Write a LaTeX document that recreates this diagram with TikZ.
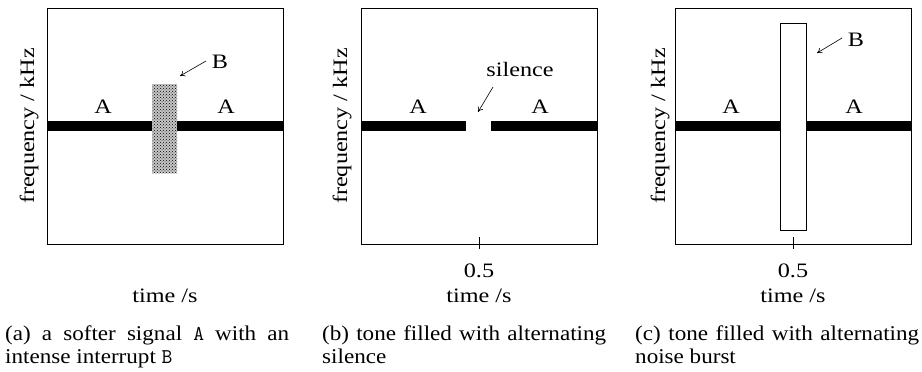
\documentclass[tikz,border=0pt]{standalone}
\usepackage{fontspec}
\setmainfont{Liberation Serif}
\newfontfamily\figfont[FakeStretch=1.18]{Liberation Serif}
\newfontfamily\capfont[FakeStretch=1.1]{Liberation Serif}
\usetikzlibrary{patterns,arrows.meta}
\tikzset{
  axisbox/.style={draw=black, line width=0.8pt},
  tonebar/.style={fill=black, draw=none},
  lbl/.style={font=\figfont\fontsize{20.5}{22}\selectfont, inner sep=0pt, anchor=base},
  ylbl/.style={font=\figfont\fontsize{20.5}{22}\selectfont, inner sep=0pt, rotate=90},
  pointer/.style={line width=0.6pt, -{To[length=5pt,width=6pt]}},
  tickmark/.style={line width=0.8pt},
  capnode/.style={font=\capfont\fontsize{21}{22.5}\selectfont, inner sep=0pt, anchor=north west,
     text width=284pt, align=justify}
}
\begin{document}
\begin{tikzpicture}[x=1pt,y=-1pt]
\useasboundingbox (0,0) rectangle (922,372);
\fill[white] (0,0) rectangle (922,372);

% ---------- panel (a)
\draw[tonebar] (47,121) rectangle (283,131);
\fill[gray!45] (152,84) rectangle (177,173);
\path[pattern=crosshatch dots, pattern color=black] (152,84) rectangle (177,173);
\draw[axisbox] (47,8) rectangle (283,244);
\node[lbl] (aA1) at (103,113) {A};
\node[lbl] (aA2) at (226,113) {A};
\node[lbl] (aB) at (220,68) {B};
\coordinate (aBs) at (206,61);
\coordinate (aBt) at (180,76);
\draw[pointer] (aBs) -- (aBt);
\node[ylbl] (ay) at (29,126) {frequency / kHz};
\node[lbl] (ax) at (165,302) {time /s};

% ---------- panel (b)
\draw[tonebar] (361,121) rectangle (466,131);
\draw[tonebar] (491,121) rectangle (597,131);
\draw[axisbox] (361,8) rectangle (597,244);
\draw[tickmark] (479,237) -- (479,249);
\node[lbl] (bA1) at (418,113) {A};
\node[lbl] (bA2) at (540,113) {A};
\node[lbl] (bs) at (520,76) {silence};
\coordinate (bSs) at (493,87);
\coordinate (bSt) at (478,112);
\draw[pointer] (bSs) -- (bSt);
\node[ylbl] (by) at (342,126) {frequency / kHz};
\node[lbl] (bt) at (479,277) {0.5};
\node[lbl] (bx) at (479,302) {time /s};

% ---------- panel (c)
\draw[tonebar] (675,121) rectangle (911,131);
\draw[line width=0.7pt, fill=white] (780,23) rectangle (806,230);
\draw[axisbox] (675,8) rectangle (911,244);
\draw[tickmark] (793,237) -- (793,249);
\node[lbl] (cA1) at (731,113) {A};
\node[lbl] (cA2) at (854,113) {A};
\node[lbl] (cB) at (856,46) {B};
\coordinate (cBs) at (842,38);
\coordinate (cBt) at (817,53);
\draw[pointer] (cBs) -- (cBt);
\node[ylbl] (cy) at (660,126) {frequency / kHz};
\node[lbl] (ct) at (793,277) {0.5};
\node[lbl] (cx) at (793,302) {time /s};

% ---------- captions
\node[capnode] (capa) at (5,326) {(a) a softer signal \texttt{A} with an\linebreak intense interrupt \texttt{B}};
\node[capnode] (capb) at (322,326) {(b) tone filled with alternating\linebreak silence};
\node[capnode] (capc) at (635,326) {(c) tone filled with alternating\linebreak noise burst};
\end{tikzpicture}
\end{document}
